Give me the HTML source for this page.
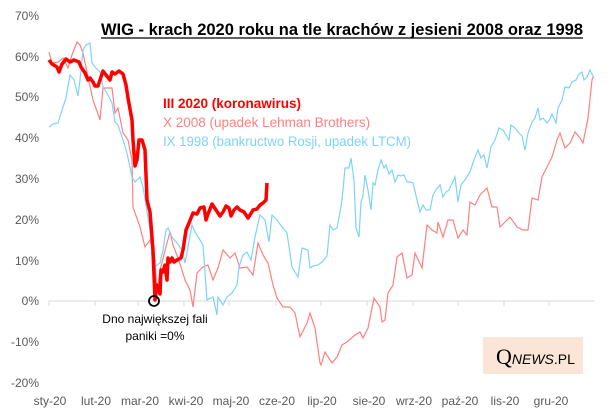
<!DOCTYPE html>
<html><head><meta charset="utf-8"><style>
body{margin:0;background:#fff;}
svg{display:block;font-family:"Liberation Sans",sans-serif;}
</style></head><body>
<svg width="610" height="417" xmlns="http://www.w3.org/2000/svg">
<rect width="610" height="417" fill="#fff"/>
<g fill="#595959" font-size="12" text-anchor="end">
<text x="39" y="20">70%</text><text x="39" y="61">60%</text><text x="39" y="101">50%</text><text x="39" y="142">40%</text><text x="39" y="183">30%</text><text x="39" y="224">20%</text><text x="39" y="265">10%</text><text x="39" y="305">0%</text><text x="39" y="346">-10%</text><text x="39" y="387">-20%</text>
</g>
<line x1="49" y1="301" x2="595" y2="301" stroke="#d9d9d9" stroke-width="1"/>
<g stroke="#d9d9d9"><path d="M49 301v5M95 301v5M138 301v5M184 301v5M229 301v5M276 301v5M321 301v5M367 301v5M413 301v5M458 301v5M504 301v5M549 301v5"/></g>
<g fill="#595959" font-size="12" text-anchor="middle">
<text x="50" y="405">sty-20</text><text x="96" y="405">lut-20</text><text x="140" y="405">mar-20</text><text x="186" y="405">kwi-20</text><text x="231" y="405">maj-20</text><text x="277" y="405">cze-20</text><text x="322" y="405">lip-20</text><text x="369" y="405">sie-20</text><text x="414" y="405">wrz-20</text><text x="460" y="405">paź-20</text><text x="505" y="405">lis-20</text><text x="551" y="405">gru-20</text>
</g>
<polyline fill="none" stroke="#ff8080" stroke-width="1.2" points="49,52 52,63 58,62 63,58 68,68 72,55 77,42 80,45 83,53 88,77 93,100 100,120 103,88 107,88 112,88 115,113 118,108 123,133 128,140 132,160 133,207 140,227 145,247 150,240 155,260 157,293 160,270 167,243 170,232 173,245 178,258 182,270 185,280 190,290 193,307 197,273 203,267 208,265 213,280 218,268 223,250 230,258 235,253 240,268 247,267 253,275 258,243 263,255 268,263 273,285 277,298 283,307 290,307 295,313 300,337 307,323 310,313 315,328 320,363 321,365 325,352 332,363 337,357 342,345 347,342 355,335 360,332 363,338 368,328 374,298 380,307 382,322 385,320 388,293 393,285 397,257 402,253 407,278 412,275 415,253 422,268 427,225 432,230 437,233 438,222 443,237 448,220 453,220 458,238 463,230 467,235 470,202 475,205 480,195 487,188 492,207 497,207 500,227 505,222 510,217 517,227 523,230 528,230 532,198 538,200 542,177 547,167 552,157 557,140 560,133 565,148 570,143 575,132 580,138 583,143 588,118 592,80 593,77"/>
<polyline fill="none" stroke="#7fd3f7" stroke-width="1.2" points="49,127 53,124 58,123 62,110 66,98 70,75 74,80 78,96 80,80 83,50 86,45 90,43 92,63 95,67 100,72 103,87 107,93 112,103 115,122 118,125 123,140 127,153 132,177 135,182 140,177 143,187 150,230 153,270 157,265 160,263 163,250 166,230 168,228 172,237 177,243 182,250 185,263 188,247 192,225 195,232 200,240 203,245 207,300 213,297 217,315 218,297 223,305 227,297 232,293 237,285 239,267 243,255 247,252 251,260 255,237 260,215 265,220 269,242 272,215 277,220 282,227 287,233 292,267 298,277 302,248 308,250 310,268 313,266 318,265 322,262 327,256 330,225 333,230 337,228 340,212 342,200 345,168 349,168 351,158 354,180 356,228 359,237 361,202 363,196 365,175 368,190 371,210 373,183 375,185 378,170 381,160 384,168 386,165 389,174 392,170 395,182 398,175 401,176 404,175 407,182 410,182 413,183 417,200 420,212 423,205 426,210 430,210 433,195 436,190 440,185 443,197 446,192 449,190 455,177 458,202 461,185 465,180 470,172 474,160 478,150 481,158 484,155 487,168 491,147 495,140 499,128 503,130 506,135 509,140 511,125 515,128 519,133 522,136 525,150 528,133 532,122 535,118 538,108 540,120 543,118 547,123 550,119 552,114 556,123 558,108 562,100 565,87 569,88 572,82 576,80 579,74 582,72 584,80 587,77 590,70 592,74 594,78"/>
<polyline fill="none" stroke="#ff0000" stroke-width="3.5" stroke-linejoin="round" points="49,60 52,64 57,67 59,72 62,64 66,59 70,62 74,60 79,62 81,67 85,73 88,80 90,78 93,82 95,86 98,86 100,80 103,71 106,75 110,80 112,72 115,74 119,71 123,74 126,85 128,98 132,120 133,140 135,166 137,160 139,140 142,140 145,150 147,200 150,212 153,250 155,300 157,285 160,294 161,270 163,272 165,265 167,280 168,258 170,262 172,258 174,262 177,260 181,258 183,250 186,230 189,223 193,213 197,214 200,208 204,207 206,220 208,214 212,204 216,210 220,216 223,212 226,206 229,208 231,216 234,210 237,207 240,210 244,212 248,218 250,215 253,210 257,209 260,205 263,203 266,200 267,183"/>
<circle cx="154" cy="301" r="5" fill="none" stroke="#000" stroke-width="1.8"/>
<text x="155" y="323" font-size="12" text-anchor="middle" fill="#000">Dno największej fali</text>
<text x="155" y="340" font-size="12" text-anchor="middle" fill="#000">paniki =0%</text>
<text x="101" y="35" font-size="17" font-weight="bold" fill="#000" textLength="482" lengthAdjust="spacingAndGlyphs">WIG - krach 2020 roku na tle krachów z jesieni 2008 oraz 1998</text>
<line x1="101" y1="38" x2="583" y2="38" stroke="#000" stroke-width="1.3"/>
<text x="163" y="108" font-size="13.5" font-weight="bold" fill="#ff0000">III 2020  (koronawirus)</text>
<text x="163" y="127" font-size="13.5" fill="#ff8080">X 2008  (upadek Lehman Brothers)</text>
<text x="163" y="146" font-size="13.5" fill="#7fd3f7" textLength="248" lengthAdjust="spacingAndGlyphs">IX 1998  (bankructwo Rosji, upadek LTCM)</text>
<rect x="483" y="337" width="100" height="37" fill="#fbe5d6"/>
<text x="496" y="364" font-family="Liberation Serif,serif" font-size="22" fill="#000">Q<tspan font-family="Liberation Sans,sans-serif" font-size="14" font-style="italic">NEWS</tspan><tspan font-family="Liberation Sans,sans-serif" font-size="14">.PL</tspan></text>
</svg>
</body></html>
